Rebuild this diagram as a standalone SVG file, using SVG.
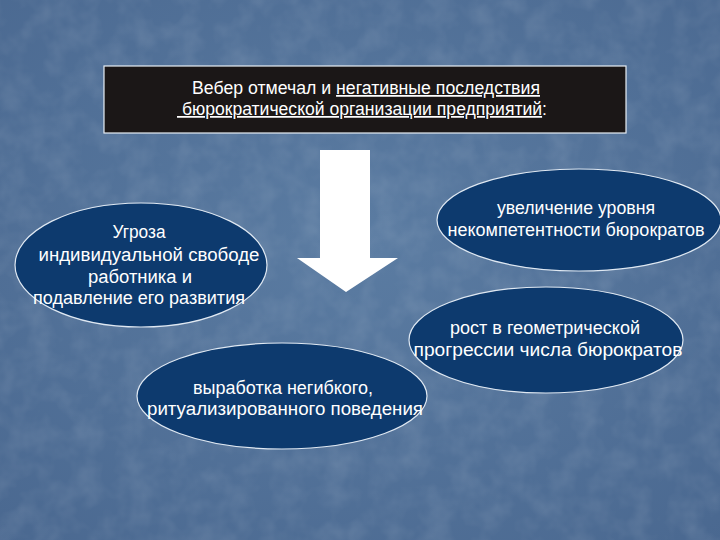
<svg xmlns="http://www.w3.org/2000/svg" width="720" height="540" viewBox="0 0 720 540">
<defs>
<radialGradient id="bg" cx="0.5" cy="0.45" r="0.75">
<stop offset="0" stop-color="#5b7ca2"/>
<stop offset="1" stop-color="#4a6890"/>
</radialGradient>
<filter id="tex" x="0" y="0" width="100%" height="100%">
<feTurbulence type="fractalNoise" baseFrequency="0.04" numOctaves="3" seed="4"/>
<feColorMatrix type="matrix" values="0 0 0 0 1  0 0 0 0 1  0 0 0 0 1  0 0 0 0.6 -0.22"/>
</filter>
<style>
.node ellipse{fill:#0d3a6e;stroke:#dfe8f2;stroke-width:1.2}
text{font-family:"Liberation Sans",Arial,sans-serif;font-size:18px;fill:#ffffff;text-anchor:middle}
.t text{text-anchor:start;font-size:17.5px}
.u{text-decoration:underline}
</style>
</defs>
<rect width="720" height="540" fill="url(#bg)"/>
<rect width="720" height="540" filter="url(#tex)" opacity="0.3"/>

<g id="title" class="t">
<rect x="104" y="66" width="522" height="67" fill="#1b1717" stroke="#e8eef5" stroke-width="1.2"/>
<text x="192" y="94" textLength="348" lengthAdjust="spacingAndGlyphs">Вебер отмечал и <tspan class="u">негативные последствия</tspan></text>
<text x="177" y="115" textLength="370" lengthAdjust="spacingAndGlyphs"><tspan class="u">&#160;бюрократической организации предприятий</tspan>:</text>
</g>

<g id="connectors">
<polygon points="320,150 370,150 370,258 398,258 346,292 297,258 320,258" fill="#ffffff"/>
</g>

<g id="n1" class="node">
<ellipse cx="141" cy="265" rx="126" ry="62"/>
<text x="139" y="238" textLength="53" lengthAdjust="spacingAndGlyphs">Угроза</text>
<text x="149" y="261" textLength="221" lengthAdjust="spacingAndGlyphs">индивидуальной свободе</text>
<text x="140" y="283" textLength="104" lengthAdjust="spacingAndGlyphs">работника и</text>
<text x="139" y="304" textLength="212" lengthAdjust="spacingAndGlyphs">подавление его развития</text>
</g>

<g id="n2" class="node">
<ellipse cx="579" cy="220" rx="142" ry="51"/>
<text x="576" y="214" textLength="158" lengthAdjust="spacingAndGlyphs">увеличение уровня</text>
<text x="576" y="236" textLength="257" lengthAdjust="spacingAndGlyphs">некомпетентности бюрократов</text>
</g>

<g id="n4" class="node">
<ellipse cx="282" cy="396" rx="145" ry="53"/>
<text x="283" y="394" textLength="180" lengthAdjust="spacingAndGlyphs">выработка негибкого,</text>
<text x="285" y="415" textLength="276" lengthAdjust="spacingAndGlyphs">ритуализированного поведения</text>
</g>

<g id="n3" class="node">
<ellipse cx="546" cy="340" rx="137" ry="53"/>
<text x="545" y="334" textLength="190" lengthAdjust="spacingAndGlyphs">рост в геометрической</text>
<text x="548" y="356" textLength="269" lengthAdjust="spacingAndGlyphs">прогрессии числа бюрократов</text>
</g>
</svg>
